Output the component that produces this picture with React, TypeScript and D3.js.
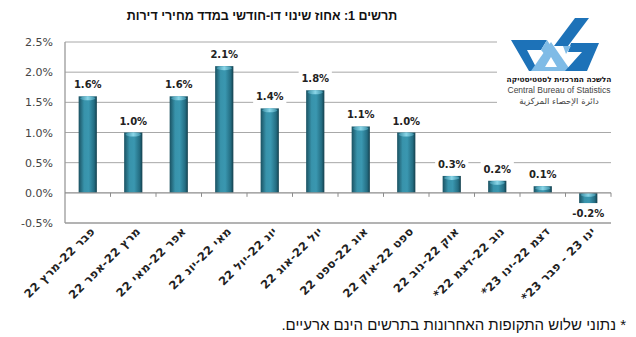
import React from "react";
import * as d3 from "d3";

const categories = [
  "פבר 22-מרץ 22",
  "מרץ 22-אפר 22",
  "אפר 22-מאי 22",
  "מאי 22-יונ 22",
  "יונ 22-יול 22",
  "יול 22-אוג 22",
  "אוג 22-ספט 22",
  "ספט 22-אוק 22",
  "אוק 22-נוב 22",
  "נוב 22-דצמ 22*",
  "דצמ 22-ינו 23*",
  "ינו 23 - פבר 23*",
];
const values = [1.6, 1.0, 1.6, 2.1, 1.4, 1.7, 1.1, 1.0, 0.28, 0.2, 0.11, -0.17];
const valueLabels = ["1.6%", "1.0%", "1.6%", "2.1%", "1.4%", "1.8%", "1.1%", "1.0%", "0.3%", "0.2%", "0.1%", "-0.2%"];
const yTicks = [-0.5, 0, 0.5, 1.0, 1.5, 2.0, 2.5];

const title = "תרשים 1: אחוז שינוי דו-חודשי במדד מחירי דירות";
const footnote = "* נתוני שלוש התקופות האחרונות בתרשים הינם ארעיים.";
const RLM = "\u200F";

const W = 636, H = 337;
const left = 65, right = 611, top = 42, bottom = 223;

export default function App() {
  const x = d3.scaleBand<string>().domain(categories).range([left, right]).paddingInner(0.6).paddingOuter(0.3);
  const xb = d3.scaleBand<string>().domain(categories).range([left, right]);
  const y = d3.scaleLinear().domain([-0.5, 2.5]).range([bottom, top]);
  const bw = x.bandwidth();
  const numFont = "'DejaVu Sans', Verdana, sans-serif";

  return (
    <svg width={W} height={H} style={{ position: "absolute", left: 0, top: 0, background: "#fff" }}>
      <defs>
        <linearGradient id="barg" x1="0" x2="1" y1="0" y2="0">
          <stop offset="0%" stopColor="#1a5161" />
          <stop offset="30%" stopColor="#3893ab" />
          <stop offset="55%" stopColor="#3a97b0" />
          <stop offset="85%" stopColor="#246d82" />
          <stop offset="100%" stopColor="#143f4c" />
        </linearGradient>
        <linearGradient id="capg" x1="0" x2="1" y1="0" y2="0">
          <stop offset="0%" stopColor="#3a8ea5" />
          <stop offset="50%" stopColor="#8ad6e8" />
          <stop offset="100%" stopColor="#3a8ea5" />
        </linearGradient>
      </defs>
      <rect x={0} y={0} width={W} height={H} fill="#fff" />

      {/* gridlines */}
      {yTicks.filter((t) => t !== 0 && t !== -0.5).map((t) => (
        <line key={"g" + t} x1={left} x2={right} y1={y(t)} y2={y(t)} stroke="#a8a8a8" strokeWidth={1} />
      ))}
      {/* bottom line */}
      <line x1={left} x2={right} y1={y(-0.5)} y2={y(-0.5)} stroke="#9a9a9a" strokeWidth={1.3} />
      {/* left axis */}
      <line x1={left} x2={left} y1={top} y2={bottom} stroke="#9a9a9a" strokeWidth={1.3} />

      {/* logo background box */}
      <rect x={497} y={22} width={126} height={88} fill="#fff" />
      <g>
        <polygon points="575,18 589,18 568,46 554,46" fill="#1d72b8" />
        <polygon points="511,40 547,40 541,50 527,50 538,71 529,71" fill="#1d72b8" />
        <polygon points="551,42 571,71 531,71" fill="#7fbbe6" />
        <polygon points="551,57 557,67 545,67" fill="#ffffff" />
        <polygon points="571,43 599,43 587,71 565,71 582,52 568,52" fill="#1d72b8" />
        <polygon points="541,50 547,40 551,46 546,56" fill="#7fbbe6" />
        <polygon points="563,46 571,46 566,54" fill="#7fbbe6" />
        <text x={559} y={82} textAnchor="middle" fontFamily="'DejaVu Sans', sans-serif" fontWeight="bold" fontSize={7.5} fill="#111">{RLM + "הלשכה המרכזית לסטטיסטיקה" + RLM}</text>
        <text x={559} y={93} textAnchor="middle" fontFamily="'Liberation Sans', Arial, sans-serif" fontSize={8.5} fill="#444">Central Bureau of Statistics</text>
        <text x={559} y={104} textAnchor="middle" fontFamily="'DejaVu Sans', sans-serif" fontSize={8.5} fill="#444">{"دائرة الإحصاء المركزية"}</text>
      </g>

      {/* bars */}
      {categories.map((c, i) => {
        const v = values[i];
        const x0 = x(c)!;
        const y0 = y(Math.max(0, v));
        const h = Math.abs(y(v) - y(0));
        const capY = v >= 0 ? y0 : y(0);
        return (
          <g key={"b" + i}>
            <rect x={x0} y={y0} width={bw} height={h} fill="url(#barg)" />
            <ellipse cx={x0 + bw / 2} cy={capY + 2} rx={bw / 2 - 1.5} ry={2} fill="url(#capg)" />
          </g>
        );
      })}

      {/* x axis at 0 */}
      <line x1={left} x2={right} y1={y(0)} y2={y(0)} stroke="#8c8c8c" strokeWidth={1.3} />
      {categories.map((c, i) => (
        <line key={"t" + i} x1={xb(c)! + xb.bandwidth()} x2={xb(c)! + xb.bandwidth()} y1={y(0)} y2={y(0) + 4} stroke="#8c8c8c" strokeWidth={1} />
      ))}

      {/* value labels */}
      {categories.map((c, i) => {
        const v = values[i];
        const cx = x(c)! + bw / 2;
        const base = v >= 0 ? y(v) - 8 : y(v) + 14;
        const tw = valueLabels[i].length * 6.8;
        return (
          <g key={"l" + i}>
            <rect x={cx - tw / 2 - 3} y={base - 12} width={tw + 6} height={16} fill="#fff" />
            <text x={cx} y={base} textAnchor="middle" fontFamily={numFont} fontWeight="bold" fontSize={10} fill="#222">{valueLabels[i]}</text>
          </g>
        );
      })}

      {/* y tick labels */}
      {yTicks.map((t) => (
        <text key={"y" + t} x={53} y={y(t) + 4} textAnchor="end" fontFamily={numFont} fontSize={11} fill="#444">{t.toFixed(1) + "%"}</text>
      ))}

      {/* x labels */}
      {categories.map((c, i) => {
        const cx = xb(c)! + xb.bandwidth() / 2;
        return (
          <text key={"x" + i} transform={`translate(${cx + 8},${bottom + 9}) rotate(-45)`} textAnchor="end" fontFamily={numFont} fontWeight="bold" fontSize={11.5} letterSpacing={0.4} fill="#222">
            {RLM + c + RLM}
          </text>
        );
      })}

      {/* title */}
      <text x={262} y={20} textAnchor="middle" fontFamily="'Liberation Sans', Arial, sans-serif" fontWeight="bold" fontSize={12.5} fill="#111">{RLM + title + RLM}</text>

      {/* footnote */}
      <text x={626} y={330} textAnchor="end" fontFamily="'Liberation Sans', Arial, sans-serif" fontSize={15} fill="#111">{RLM + footnote + RLM}</text>
    </svg>
  );
}
